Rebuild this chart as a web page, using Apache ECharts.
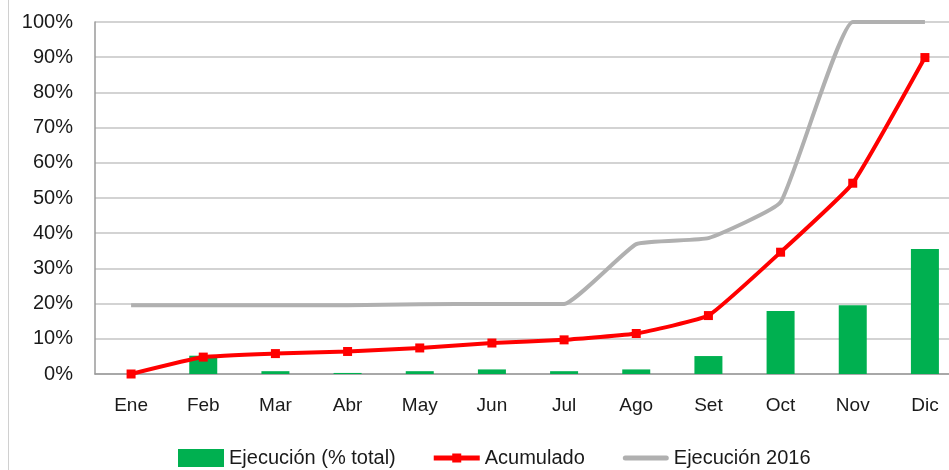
<!DOCTYPE html>
<html>
<head>
<meta charset="utf-8">
<script src="https://cdn.jsdelivr.net/npm/echarts@6/dist/echarts.min.js"></script>
<style>
  html, body { margin: 0; padding: 0; background: #fff; overflow: hidden; }
  #frame { position: absolute; left: 8px; top: 0; width: 1px; height: 470px; background: #d0d0d0; }
  #chart { position: absolute; left: 0; top: 0; width: 961px; height: 470px; }
</style>
</head>
<body>
<div id="chart"></div>
<div id="frame"></div>
<script>
// datos
const meses = ['Ene', 'Feb', 'Mar', 'Abr', 'May', 'Jun', 'Jul', 'Ago', 'Set', 'Oct', 'Nov', 'Dic'];
const ejecucion = [0, 5.2, 0.8, 0.3, 0.8, 1.3, 0.8, 1.3, 5.1, 17.9, 19.5, 35.5];
const acumulado = [0, 4.8, 5.8, 6.4, 7.4, 8.8, 9.7, 11.5, 16.6, 34.6, 54.2, 89.9];
const ejecucion2016 = [19.5, 19.5, 19.5, 19.5, 19.8, 19.9, 19.9, 36.9, 38.6, 48.8, 100, 100];

const font = "'Liberation Sans', Arial, sans-serif";

// iconos de leyenda: linea gruesa con marcador cuadrado / linea redondeada
const iconAcum = 'path://M0,2 H18.5 V0 H27.5 V2 H46 V7 H27.5 V9 H18.5 V7 H0 Z';
const icon2016 = 'path://M2.5,0 H43.5 A2.5,2.5 0 0 1 43.5,5 H2.5 A2.5,2.5 0 0 1 2.5,0 Z';

const chart = echarts.init(document.getElementById('chart'));
chart.setOption({
  animation: false,
  textStyle: { fontFamily: font },
  grid: { left: 95, top: 22, right: 0, bottom: 96 },
  legend: {
    left: 178,
    top: 448,
    padding: 0,
    itemGap: 38,
    itemWidth: 46,
    itemHeight: 18,
    symbolKeepAspect: true,
    textStyle: { fontSize: 20, color: '#1a1a1a', fontFamily: font },
    data: [
      { name: 'Ejecución (% total)', icon: 'rect' },
      { name: 'Acumulado', icon: iconAcum },
      { name: 'Ejecución 2016', icon: icon2016 }
    ]
  },
  xAxis: {
    type: 'category',
    data: meses,
    axisLine: { lineStyle: { color: '#9a9a9a', width: 1.5 } },
    axisTick: { show: false },
    axisLabel: { color: '#1a1a1a', fontSize: 19, margin: 22 }
  },
  yAxis: {
    type: 'value',
    min: 0,
    max: 100,
    interval: 10,
    axisLine: { show: true, lineStyle: { color: '#9a9a9a', width: 1.5 } },
    axisTick: { show: false },
    axisLabel: { color: '#1a1a1a', fontSize: 20, margin: 22, formatter: '{value}%' },
    splitLine: { lineStyle: { color: '#c4c4c4', width: 1.5 } }
  },
  series: [
    {
      name: 'Ejecución (% total)',
      type: 'bar',
      data: ejecucion,
      barWidth: 28,
      itemStyle: { color: '#00b050' },
      z: 1
    },
    {
      name: 'Ejecución 2016',
      type: 'line',
      data: ejecucion2016,
      smooth: 0.12,
      symbol: 'none',
      lineStyle: { color: '#b0b0b0', width: 4 },
      itemStyle: { color: '#b0b0b0' },
      z: 2
    },
    {
      name: 'Acumulado',
      type: 'line',
      data: acumulado,
      smooth: 0.12,
      symbol: 'rect',
      symbolSize: 9,
      lineStyle: { color: '#ff0000', width: 4 },
      itemStyle: { color: '#ff0000' },
      z: 3
    }
  ]
});
</script>
</body>
</html>
